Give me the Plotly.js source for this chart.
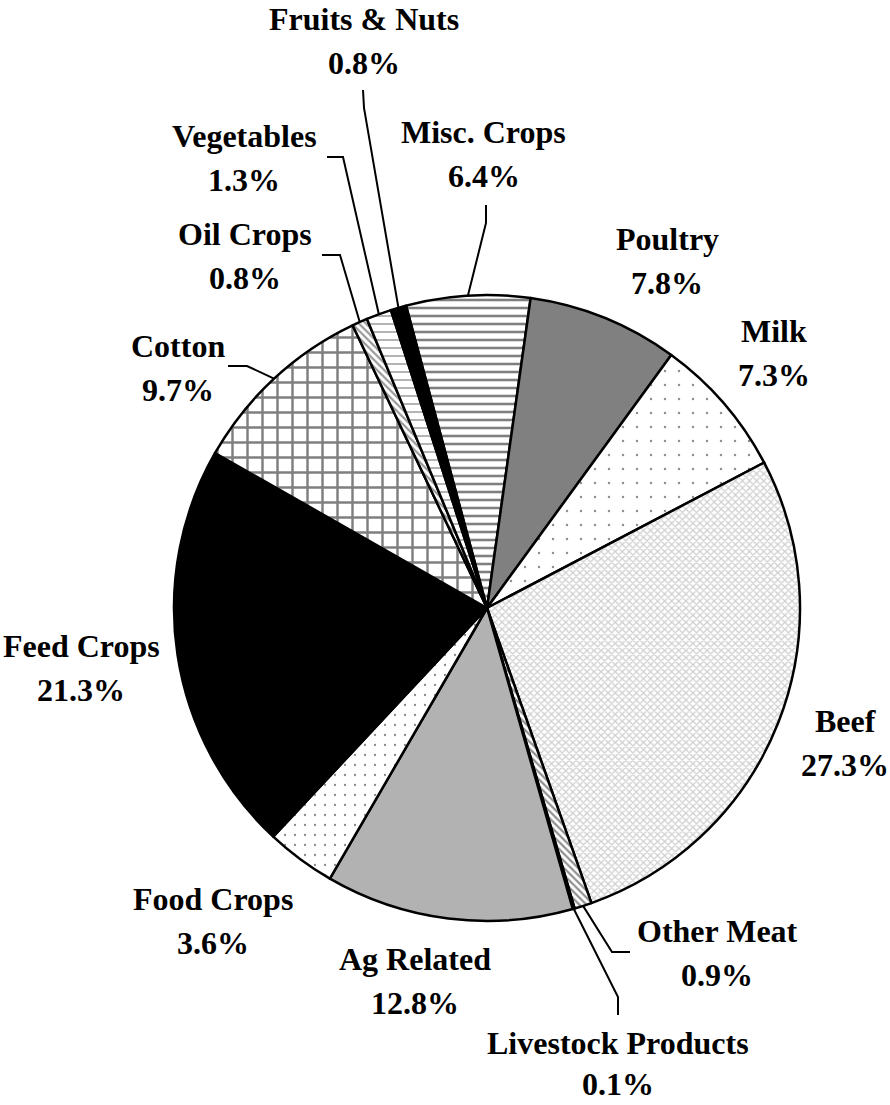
<!DOCTYPE html>
<html><head><meta charset="utf-8">
<script src="https://cdn.plot.ly/plotly-3.0.1.min.js"></script>
<style>html,body{margin:0;padding:0;background:#fff}</style>
</head><body><div id="chart" style="width:890px;height:1105px"></div>
<script>
// ---- data ----
const categories = ["Misc. Crops","Poultry","Milk","Beef","Other Meat","Livestock Products","Ag Related","Food Crops","Feed Crops","Cotton","Oil Crops","Vegetables","Fruits & Nuts"];
const shares = [6.4, 7.8, 7.3, 27.3, 0.9, 0.1, 12.8, 3.6, 21.3, 9.7, 0.8, 1.3, 0.8];
const percentLabels = ["6.4%","7.8%","7.3%","27.3%","0.9%","0.1%","12.8%","3.6%","21.3%","9.7%","0.8%","1.3%","0.8%"];

// ---- styles ----
const sliceColors   = ["#ffffff","#808080","#ffffff","#ffffff","#ffffff","#ffffff","#b2b2b2","#ffffff","#000000","#ffffff","#ffffff","#ffffff","#000000"];
const patternShapes = ["-","","." ,"x","\\","","",".","","+","\\","-",""];
const patternFg     = ["#000000","#808080","#222222","#a0a0a0","#222222","#ffffff","#b2b2b2","#111111","#000000","#000000","#333333","#444444","#000000"];
const patternSize   = [8,8,14,5,5,8,8,10,8,15,5,8,8];
const patternSolid  = [0.32,0.3,0.025,0.45,0.45,0.3,0.3,0.04,0.3,0.3,0.45,0.2,0.3];

// ---- layout geometry ----
const W = 890, H = 1105, CX = 487, CY = 608, R = 313, ROT = -15;
const FONT = {family: "Liberation Serif, Times New Roman, serif", size: 32, color: "#000"};
const LINE_GAP = 44;
// label centre x and first-line baseline (px)
const labelPos = {
  "Fruits & Nuts": [364, 30],
  "Vegetables": [244, 147],
  "Misc. Crops": [484, 143],
  "Oil Crops": [245, 245],
  "Cotton": [178, 357],
  "Poultry": [667, 250],
  "Milk": [774, 342],
  "Beef": [845, 732],
  "Other Meat": [717, 942],
  "Livestock Products": [618, 1054],
  "Ag Related": [415, 970],
  "Food Crops": [213, 910],
  "Feed Crops": [81, 657]
};
// leader line elbow points (px), end point comes from the slice
const leaders = {
  "Fruits & Nuts": [[363, 90], [364, 108]],
  "Vegetables": [[327, 157], [343, 157]],
  "Misc. Crops": [[486, 205], [486, 223]],
  "Oil Crops": [[322, 255], [340, 255]],
  "Cotton": [[228, 366], [247, 366]],
  "Other Meat": [[630, 952], [612, 952]],
  "Livestock Products": [[618, 1015], [618, 997]]
};

const px2x = x => x / W;
const px2y = y => 1 - y / H;

const total = shares.reduce((a, b) => a + b, 0);
let cum = 0;
const midAngles = shares.map(v => { const m = ROT + 360 * (cum + v / 2) / total; cum += v; return m; });

const annotations = [];
const shapes = [];
categories.forEach((c, i) => {
  const p = labelPos[c];
  const gap = c === "Livestock Products" ? LINE_GAP - 3 : LINE_GAP;
  annotations.push({xref: "paper", yref: "paper", x: px2x(p[0]), y: px2y(p[1] - 11), text: "<b>" + c.replace("&", "&amp;") + "</b>", showarrow: false, xanchor: "center", yanchor: "middle", font: FONT});
  annotations.push({xref: "paper", yref: "paper", x: px2x(p[0]), y: px2y(p[1] + gap - 11), text: "<b>" + percentLabels[i] + "</b>", showarrow: false, xanchor: "center", yanchor: "middle", font: FONT});
  if (leaders[c]) {
    const a = midAngles[i] * Math.PI / 180;
    const ex = CX + R * Math.sin(a), ey = CY - R * Math.cos(a);
    const pts = leaders[c].concat([[ex, ey]]);
    const path = pts.map((q, k) => (k ? "L" : "M") + px2x(q[0]) + "," + px2y(q[1])).join(" ");
    shapes.push({type: "path", xref: "paper", yref: "paper", path: path, line: {color: "#000", width: 2}});
  }
});

const trace = {
  type: "pie",
  labels: categories,
  values: shares,
  sort: false,
  direction: "clockwise",
  rotation: ROT,
  textinfo: "none",
  hoverinfo: "label+percent",
  showlegend: false,
  domain: {x: [px2x(CX - R), px2x(CX + R)], y: [px2y(CY + R), px2y(CY - R)]},
  marker: {
    colors: sliceColors,
    line: {color: "#000", width: 2.5},
    pattern: {shape: patternShapes, fgcolor: patternFg, bgcolor: sliceColors, size: patternSize, solidity: patternSolid, fillmode: "overlay"}
  }
};

Plotly.newPlot("chart", [trace], {
  width: W, height: H,
  margin: {l: 0, r: 0, t: 0, b: 0},
  paper_bgcolor: "#fff",
  showlegend: false,
  annotations: annotations,
  shapes: shapes
}, {staticPlot: true});
</script></body></html>
